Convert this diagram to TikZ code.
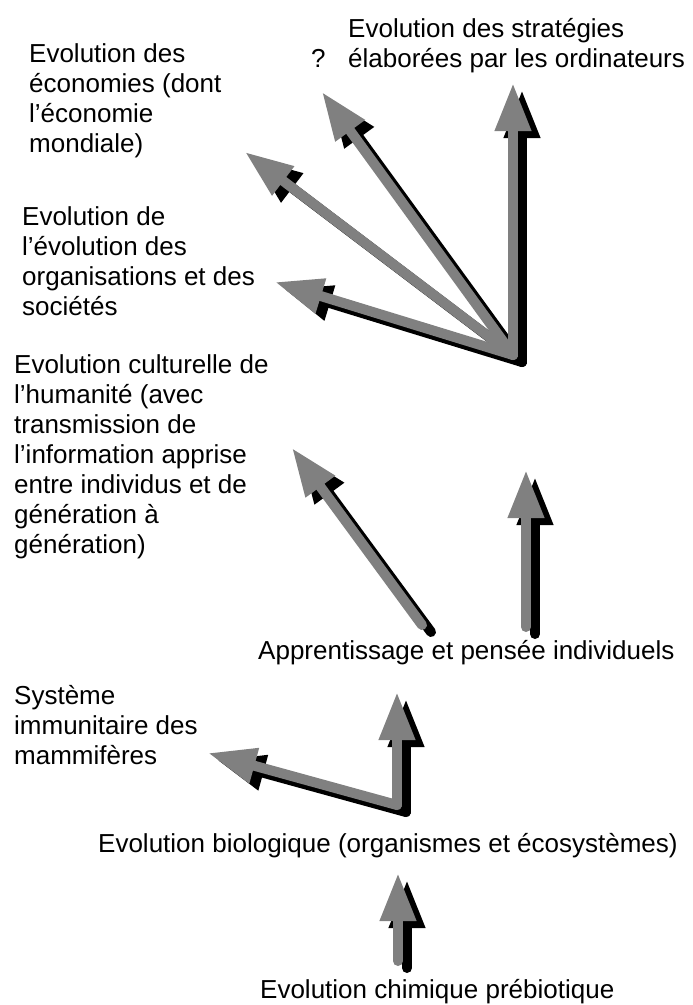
\documentclass[tikz,border=0pt]{standalone}
\usepackage{fontspec}
\setmainfont{Liberation Sans}
\usetikzlibrary{arrows.meta}
\definecolor{arrowgray}{HTML}{808080}
\begin{document}
\begin{tikzpicture}[x=1pt,y=-1pt,
  lbl/.style={inner sep=0pt, font=\fontsize{26}{30}\selectfont, align=left},
  evo/.style={line width=10pt, line cap=round, -{Triangle[width=34pt,length=48pt]}},
  front/.style={evo, draw=arrowgray},
  shade/.style={evo, draw=black, transform canvas={shift={(9pt,-7pt)}}},
]
\useasboundingbox (0,0) rectangle (693,1005);

% labels
\node[lbl, anchor=north west] (strat) at (348,18) {Evolution des stratégies\\élaborées par les ordinateurs};
\node[lbl, anchor=base west] (q) at (311,67) {?};
\node[lbl, anchor=north west] (eco) at (29,43) {Evolution des\\économies (dont\\l’économie\\mondiale)};
\node[lbl, anchor=north west] (orga) at (22,206) {Evolution de\\l’évolution des\\organisations et des\\sociétés};
\node[lbl, anchor=north west] (cult) at (14,354) {Evolution culturelle de\\l’humanité (avec\\transmission de\\l’information apprise\\entre individus et de\\génération à\\génération)};
\node[lbl, anchor=base west] (appr) at (258,659) {Apprentissage et pensée individuels};
\node[lbl, anchor=north west] (immu) at (14,685) {Système\\immunitaire des\\mammifères};
\node[lbl, anchor=base west] (bio) at (98,852) {Evolution biologique (organismes et écosystèmes)};
\node[lbl, anchor=base west] (chim) at (260,998) {Evolution chimique prébiotique};

% arrow end points
\coordinate (o1) at (513,355);
\coordinate (t1a) at (513,83);
\coordinate (t1b) at (322,92);
\coordinate (t1c) at (245,152);
\coordinate (t1d) at (275,282);
\coordinate (o2a) at (422,625);
\coordinate (t2a) at (292,448);
\coordinate (o2b) at (526,627);
\coordinate (t2b) at (526,470);
\coordinate (o3) at (397,805);
\coordinate (t3a) at (397,692);
\coordinate (t3b) at (208,753);
\coordinate (o4) at (398,961);
\coordinate (t4) at (398,873);

% shadows
\foreach \s/\t in {o1/t1a,o1/t1b,o1/t1c,o1/t1d,o2a/t2a,o2b/t2b,o3/t3a,o3/t3b,o4/t4}
  \draw[shade] (\s) -- (\t);
% front arrows
\foreach \s/\t in {o1/t1a,o1/t1b,o1/t1c,o1/t1d,o2a/t2a,o2b/t2b,o3/t3a,o3/t3b,o4/t4}
  \draw[front] (\s) -- (\t);
\end{tikzpicture}
\end{document}
